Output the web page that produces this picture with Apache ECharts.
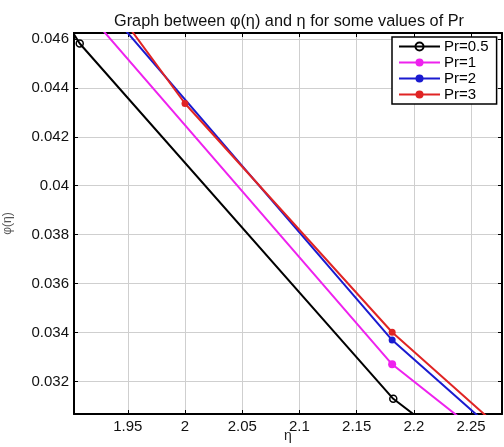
<!DOCTYPE html>
<html>
<head>
<meta charset="utf-8">
<script src="https://cdn.jsdelivr.net/npm/echarts@6/dist/echarts.min.js"></script>
<style>html,body{margin:0;padding:0;background:#fff}#c{width:504px;height:447px}</style>
</head>
<body>
<div id="c"></div>
<script>
// Data (η, φ(η)); end points lie outside the visible window
const seriesNames = ['Pr=0.5', 'Pr=1', 'Pr=2', 'Pr=3'];
const etaPr05 = [1.636, 1.908, 2.182, 2.455];
const phiPr05 = [0.0662, 0.04581, 0.03129, 0.02157];
const etaPr1 = [1.911, 2.181, 2.45];
const phiPr1 = [0.04728, 0.0327, 0.02276];
const etaPr2 = [1.82, 2.181, 2.36];
const phiPr2 = [0.0533, 0.03369, 0.02629];
const etaPr3 = [1.82, 2.0, 2.181, 2.36];
const phiPr3 = [0.05483, 0.04336, 0.03401, 0.02656];
const xTicks = [1.95, 2, 2.05, 2.1, 2.15, 2.2, 2.25];
const yTicks = [0.032, 0.034, 0.036, 0.038, 0.04, 0.042, 0.044, 0.046];

const X_MIN = 1.903, X_MAX = 2.277, Y_MIN = 0.03067, Y_MAX = 0.04624;

function pairs(xs, ys) { return xs.map((x, i) => [x, ys[i]]); }
function fmt(list) {
  return function (v) {
    for (const t of list) if (Math.abs(v - t) < 1e-7) return String(parseFloat(t.toFixed(4)));
    return '';
  };
}

const chart = echarts.init(document.getElementById('c'), null, {renderer: 'canvas'});
const FONT = 'Liberation Sans, Arial, sans-serif';
const baseAxis = {
  axisLine: {show: true, onZero: false, lineStyle: {color: '#000', width: 2}},
  axisTick: {show: true, inside: true, length: 4, lineStyle: {color: '#000', width: 1}},
};
const colors = ['#000000', '#ee22ee', '#1a1ad0', '#e02424'];
const lineW = 2;

chart.setOption({
  animation: false,
  backgroundColor: '#fff',
  title: {
    text: 'Graph between φ(η) and η for some values of Pr',
    left: 284, top: 9, textAlign: 'center',
    textStyle: {fontFamily: FONT, fontSize: 16.3, fontWeight: 'normal', color: '#111'}
  },
  grid: {left: 74, right: 2, top: 33, bottom: 33, containLabel: false, outerBoundsMode: 'none'},
  legend: {
    orient: 'vertical', left: 392, top: 37,
    itemWidth: 41, itemHeight: 10, itemGap: 1,
    padding: [2, 8, 2, 6],
    backgroundColor: '#fff', borderColor: '#000', borderWidth: 1.5, borderRadius: 0,
    textStyle: {fontFamily: FONT, fontSize: 15, color: '#000', padding: [0, 0, 0, -1]},
    data: seriesNames
  },
  xAxis: [
    Object.assign({}, baseAxis, {
      type: 'value', min: X_MIN, max: X_MAX, minInterval: 0.05, maxInterval: 0.05, splitNumber: 8,
      name: 'η', nameLocation: 'middle', nameGap: 15, nameMoveOverlap: false,
      nameTextStyle: {fontFamily: FONT, fontSize: 14, color: '#222'},
      axisLabel: {fontFamily: FONT, fontSize: 15, color: '#111', margin: 5, formatter: fmt(xTicks)},
      splitLine: {show: true, lineStyle: {color: '#cfcfcf', width: 1}}
    }),
    Object.assign({}, baseAxis, {
      type: 'value', position: 'top', min: X_MIN, max: X_MAX, minInterval: 0.05, maxInterval: 0.05, splitNumber: 8,
      axisLabel: {show: false}, splitLine: {show: false}
    })
  ],
  yAxis: [
    Object.assign({}, baseAxis, {
      type: 'value', min: Y_MIN, max: Y_MAX, minInterval: 0.002, maxInterval: 0.002, splitNumber: 8,
      name: 'φ(η)', nameLocation: 'middle', nameGap: 60, nameRotate: 90, nameMoveOverlap: false,
      nameTextStyle: {fontFamily: FONT, fontSize: 12, color: '#555'},
      axisLabel: {fontFamily: FONT, fontSize: 15, color: '#111', margin: 5, formatter: fmt(yTicks)},
      splitLine: {show: true, lineStyle: {color: '#cfcfcf', width: 1}}
    }),
    Object.assign({}, baseAxis, {
      type: 'value', position: 'right', min: Y_MIN, max: Y_MAX, minInterval: 0.002, maxInterval: 0.002, splitNumber: 8,
      axisLabel: {show: false}, splitLine: {show: false}
    })
  ],
  series: [
    {
      name: seriesNames[0], type: 'line', data: pairs(etaPr05, phiPr05), clip: true,
      symbol: 'circle', symbolSize: 7,
      lineStyle: {color: colors[0], width: lineW},
      itemStyle: {color: 'rgba(255,255,255,0)', borderColor: colors[0], borderWidth: 1.5}
    },
    {
      name: seriesNames[1], type: 'line', data: pairs(etaPr1, phiPr1), clip: true,
      symbol: 'circle', symbolSize: 8,
      lineStyle: {color: colors[1], width: lineW},
      itemStyle: {color: colors[1], borderColor: colors[1], borderWidth: 0}
    },
    {
      name: seriesNames[2], type: 'line', data: pairs(etaPr2, phiPr2), clip: true,
      symbol: 'circle', symbolSize: 7,
      lineStyle: {color: colors[2], width: lineW},
      itemStyle: {color: colors[2], borderWidth: 0}
    },
    {
      name: seriesNames[3], type: 'line', data: pairs(etaPr3, phiPr3), clip: true,
      symbol: 'circle', symbolSize: 7,
      lineStyle: {color: colors[3], width: lineW},
      itemStyle: {color: colors[3], borderWidth: 0}
    }
  ]
});
</script>
</body>
</html>
